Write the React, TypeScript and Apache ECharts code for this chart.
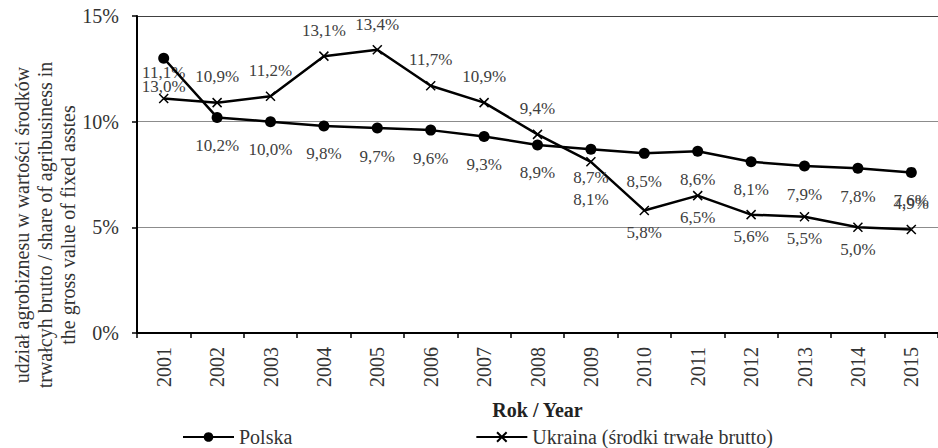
import React, { useEffect, useRef } from "react";
import * as echarts from "echarts";

const years = ["2001","2002","2003","2004","2005","2006","2007","2008","2009","2010","2011","2012","2013","2014","2015"];
const polska = [13.0, 10.2, 10.0, 9.8, 9.7, 9.6, 9.3, 8.9, 8.7, 8.5, 8.6, 8.1, 7.9, 7.8, 7.6];
const ukraina = [11.1, 10.9, 11.2, 13.1, 13.4, 11.7, 10.9, 9.4, 8.1, 5.8, 6.5, 5.6, 5.5, 5.0, 4.9];
const yTicks = [0, 5, 10, 15];

const FONT = "Times New Roman, Liberation Serif, DejaVu Serif, serif";
const fmt = (v: number) => v.toFixed(1).replace(".", ",") + "%";

export default function App() {
  const ref = useRef<HTMLDivElement>(null);
  useEffect(() => {
    if (!ref.current) return;
    const chart = echarts.init(ref.current, undefined, { renderer: "svg" });
    const labelBase = { show: true, fontSize: 17, fontFamily: FONT, color: "#404040", formatter: (p: any) => fmt(p.value) };
    const ukrData = ukraina.map((v, i) => {
      const below = i >= 8 && i <= 13;
      return {
        value: v,
        label: below
          ? { position: "bottom", distance: i === 8 ? 24 : 8 }
          : { position: "top", distance: 12 },
      };
    });
    chart.setOption({
      animation: false,
      backgroundColor: "#fff",
      textStyle: { fontFamily: FONT },
      grid: { left: 137, top: 16, width: 808, height: 317, containLabel: false },
      xAxis: {
        type: "category",
        data: years,
        boundaryGap: true,
        axisLine: { lineStyle: { color: "#000", width: 2 } },
        axisTick: { show: true, length: 5, lineStyle: { color: "#000", width: 1.5 } },
        axisLabel: { rotate: 90, margin: 14, fontSize: 20, fontFamily: FONT, color: "#333" },
        name: "Rok / Year",
        nameLocation: "middle",
        nameGap: 67,
        nameTextStyle: { fontSize: 20, fontFamily: FONT, fontWeight: "bold", color: "#222" },
      },
      yAxis: {
        type: "value",
        min: yTicks[0],
        max: yTicks[yTicks.length - 1],
        interval: 5,
        axisLine: { show: true, lineStyle: { color: "#000", width: 2 } },
        axisTick: { show: true, length: 5, lineStyle: { color: "#000", width: 1.5 } },
        axisLabel: { margin: 18, fontSize: 20, fontFamily: FONT, color: "#333", formatter: "{value}%" },
        splitLine: { show: true, lineStyle: { color: ["#000", "#8c8c8c", "#8c8c8c", "#404040"], width: 1 } },
      },
      legend: {
        left: 177,
        top: 422,
        itemWidth: 51,
        itemHeight: 12,
        itemGap: 183,
        textStyle: { fontSize: 20, fontFamily: FONT, color: "#333" },
        data: ["Polska", "Ukraina (środki trwałe brutto)"],
      },
      graphic: [
        {
          type: "text",
          x: 45,
          y: 225,
          rotation: Math.PI / 2,
          style: {
            text: "udział agrobiznesu w wartości środków\ntrwałcyh brutto / share of agribusiness in\nthe gross value of fixed asstes",
            fontSize: 20,
            fontFamily: FONT,
            fill: "#333",
            align: "center",
            verticalAlign: "middle",
            lineHeight: 23,
          },
        },
      ],
      series: [
        {
          name: "Polska",
          type: "line",
          data: polska,
          symbol: "circle",
          symbolSize: 11,
          lineStyle: { color: "#000", width: 2.5 },
          itemStyle: { color: "#000" },
          label: { ...labelBase, position: "bottom", distance: 14 },
          z: 3,
        },
        {
          name: "Ukraina (środki trwałe brutto)",
          type: "line",
          data: ukrData,
          symbol: "path://M0,0L10,10M10,0L0,10",
          symbolSize: 9,
          lineStyle: { color: "#000", width: 2.5 },
          itemStyle: { color: "#000", borderColor: "#000", borderWidth: 1.5 },
          label: { ...labelBase },
          z: 2,
        },
      ],
    });
    return () => chart.dispose();
  }, []);
  return <div ref={ref} style={{ position: "fixed", left: 0, top: 0, width: 938, height: 448 }} />;
}
